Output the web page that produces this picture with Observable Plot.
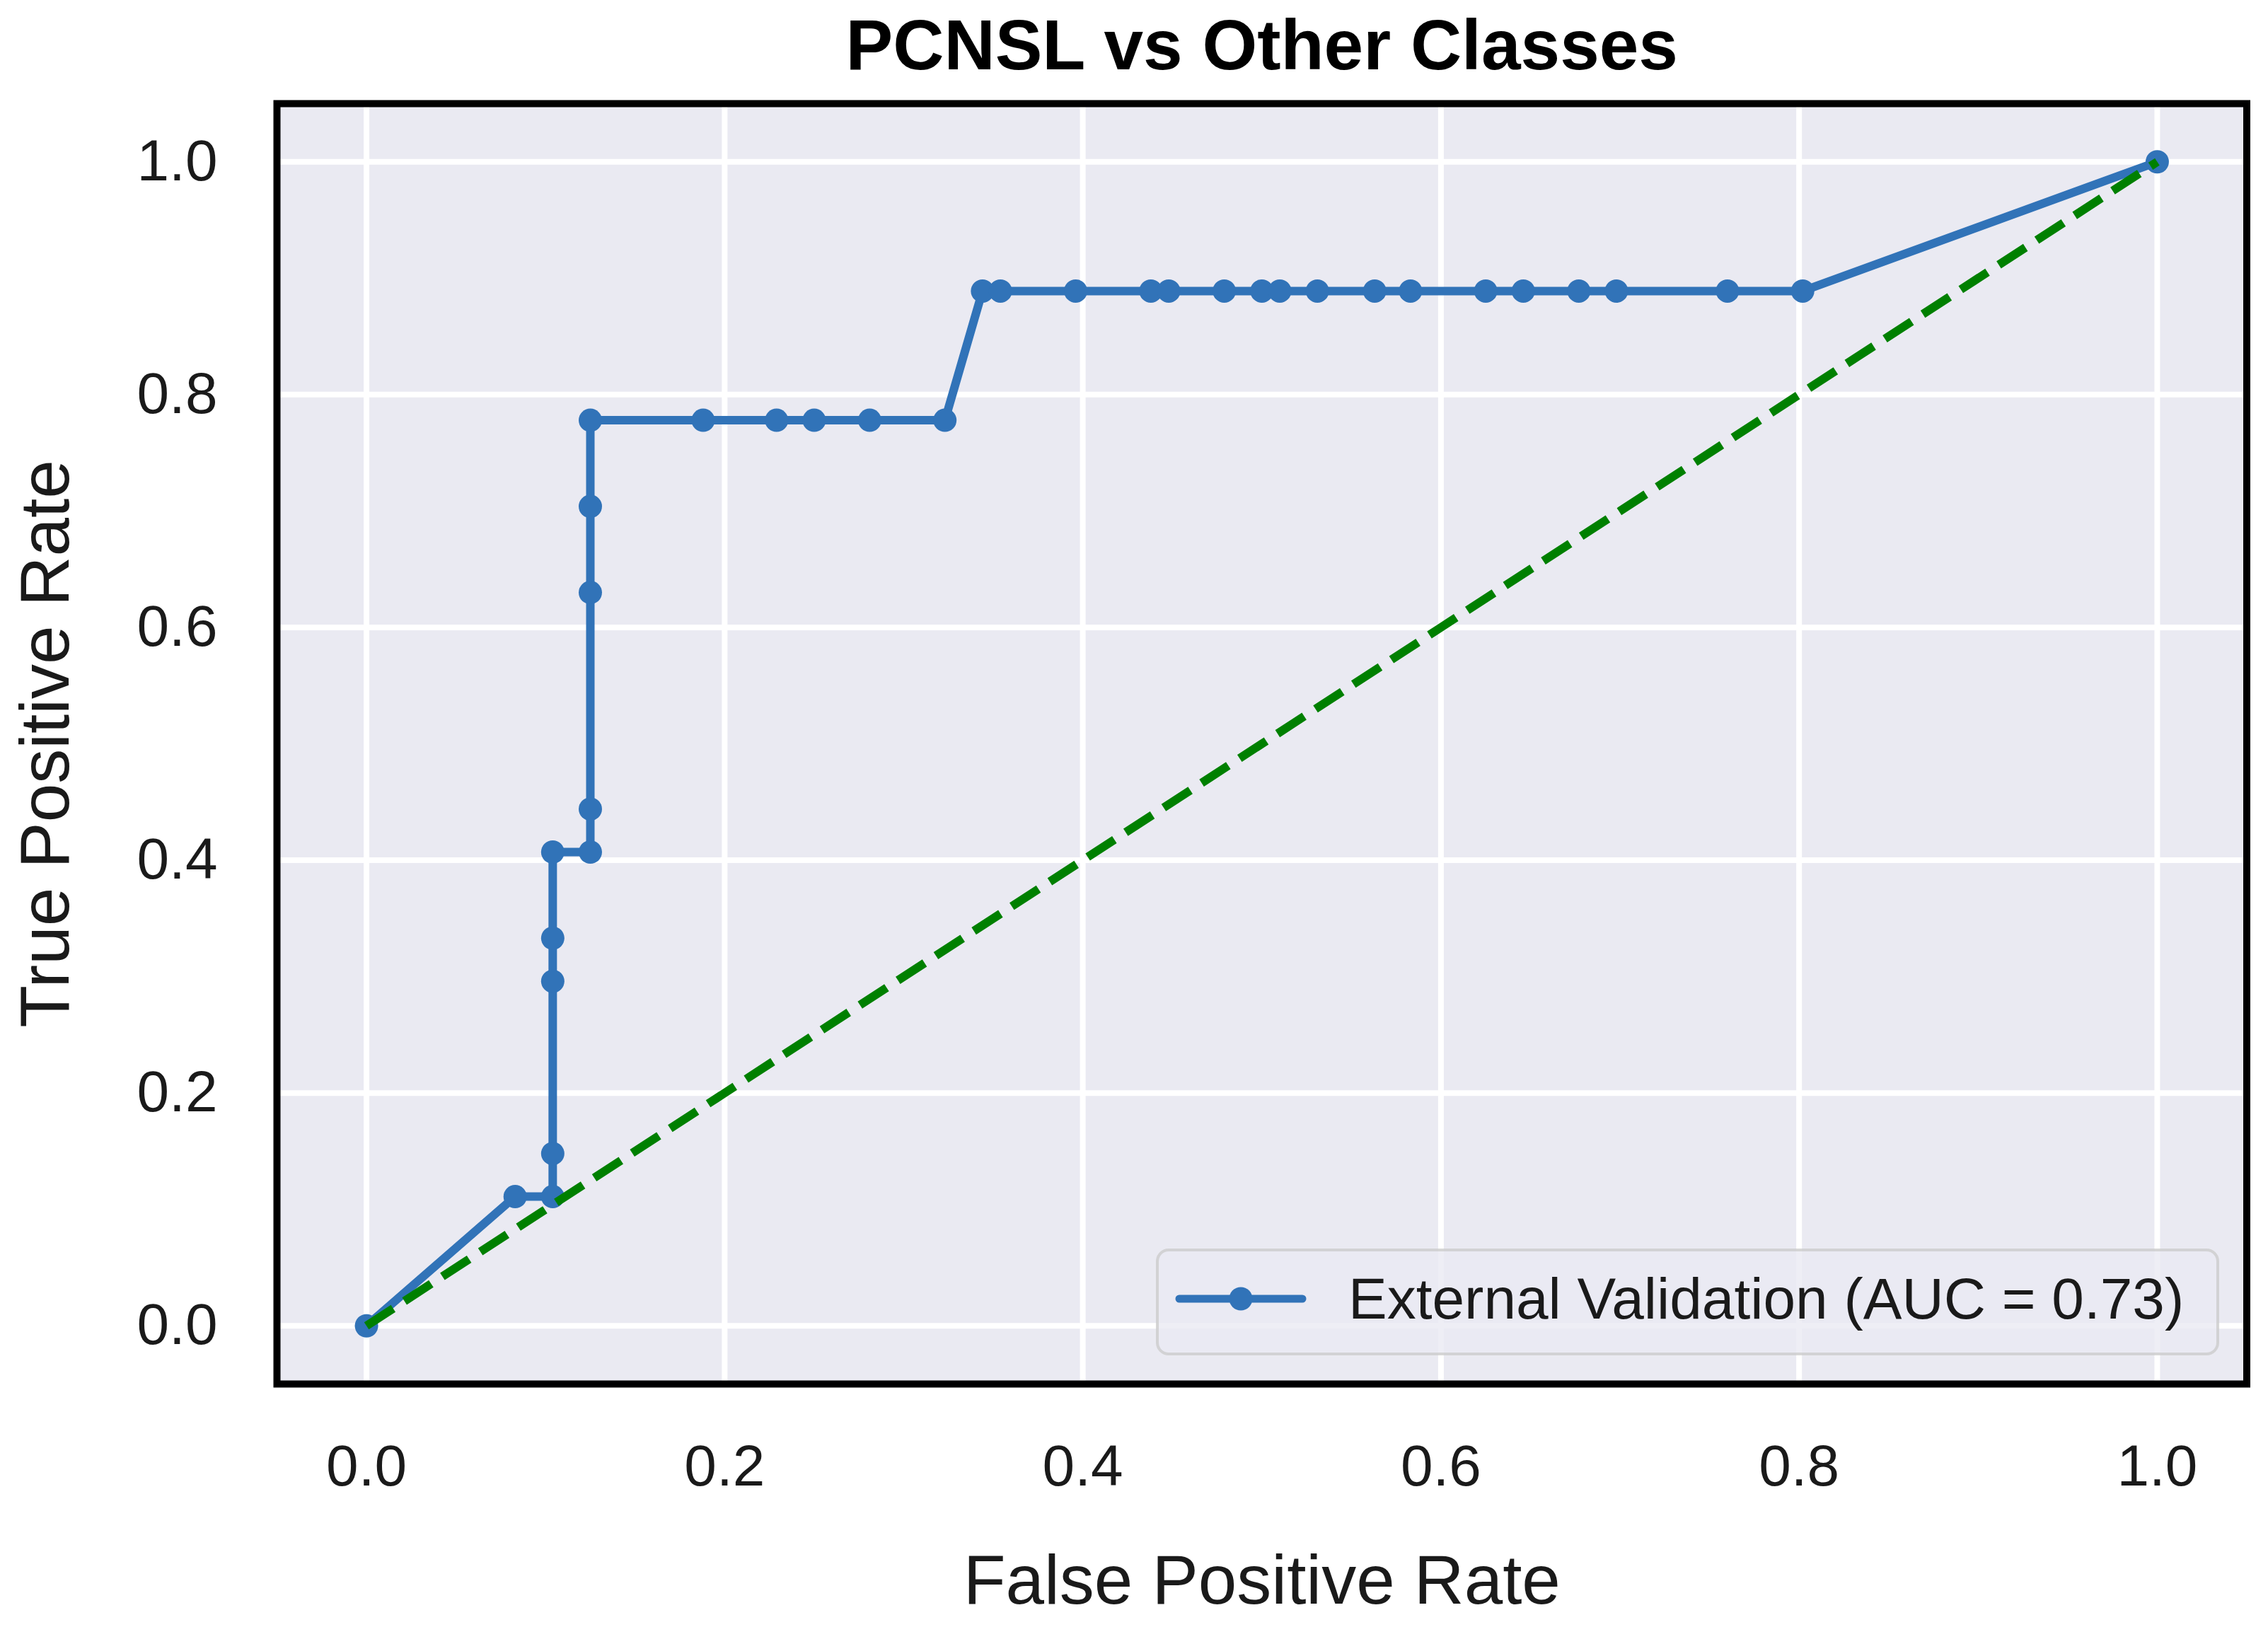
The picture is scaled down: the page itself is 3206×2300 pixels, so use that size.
<!DOCTYPE html>
<html>
<head>
<meta charset="utf-8">
<script src="https://cdn.jsdelivr.net/npm/d3@7"></script>
<script src="https://cdn.jsdelivr.net/npm/@observablehq/plot@0.6"></script>
<style>
  html, body { margin: 0; padding: 0; background: #ffffff; }
  #chart svg { display: block; }
</style>
</head>
<body>
<div id="chart"></div>
<script>
// ---- Data ----
const fpr = [0, 0.083, 0.104, 0.104, 0.104, 0.104, 0.104, 0.125, 0.125, 0.125, 0.125, 0.125,
             0.188, 0.229, 0.25, 0.281, 0.323,
             0.344, 0.354, 0.396, 0.438, 0.448, 0.479, 0.5, 0.51, 0.531, 0.563, 0.583,
             0.625, 0.646, 0.677, 0.698, 0.76, 0.802, 1.0];
const tpr = [0, 0.111, 0.111, 0.148, 0.296, 0.333, 0.407, 0.407, 0.444, 0.63, 0.704, 0.778,
             0.778, 0.778, 0.778, 0.778, 0.778,
             0.889, 0.889, 0.889, 0.889, 0.889, 0.889, 0.889, 0.889, 0.889, 0.889, 0.889,
             0.889, 0.889, 0.889, 0.889, 0.889, 0.889, 1.0];
const diagX = [0, 1];
const diagY = [0, 1];
const xTicks = [0, 0.2, 0.4, 0.6, 0.8, 1.0];
const yTicks = [0, 0.2, 0.4, 0.6, 0.8, 1.0];
const titleText = "PCNSL vs Other Classes";
const xLabelText = "False Positive Rate";
const yLabelText = "True Positive Rate";
const legendText = "External Validation (AUC = 0.73)";

// ---- Build tables ----
const roc = fpr.map((x, i) => ({x, y: tpr[i]}));
const diag = diagX.map((x, i) => ({x, y: diagY[i]}));

const W = 3206, H = 2300;
const mL = 391, mR = 30.5, mT = 146, mB = 344;
const font = "'Liberation Sans', Arial, Helvetica, sans-serif";
const blue = "#3173b8";
const textColor = "#1a1a1a";

const chart = Plot.plot({
  width: W,
  height: H,
  marginLeft: mL,
  marginRight: mR,
  marginTop: mT,
  marginBottom: mB,
  style: {fontFamily: font, background: "#ffffff", color: textColor, overflow: "visible"},
  x: {domain: [-0.05, 1.05]},
  y: {domain: [-0.05, 1.05]},
  marks: [
    Plot.frame({fill: "#EAEAF2", stroke: "none"}),
    Plot.gridX(xTicks, {stroke: "#ffffff", strokeOpacity: 1, strokeWidth: 8}),
    Plot.gridY(yTicks, {stroke: "#ffffff", strokeOpacity: 1, strokeWidth: 8}),
    Plot.line(roc, {x: "x", y: "y", stroke: blue, strokeWidth: 12}),
    Plot.dot(roc, {x: "x", y: "y", r: 16.5, fill: blue}),
    Plot.line(diag, {x: "x", y: "y", stroke: "#008000", strokeWidth: 12, strokeDasharray: "45,19", strokeLinecap: "butt"}),
    Plot.axisX(xTicks, {tickSize: 0, tickPadding: 85, tickFormat: d3.format(".1f"), fontSize: 82, label: null, fill: textColor}),
    Plot.axisY(yTicks, {tickSize: 0, tickPadding: 84, tickFormat: d3.format(".1f"), fontSize: 82, label: null, fill: textColor}),
    Plot.frame({stroke: "#000000", strokeWidth: 10, fill: "none"}),
    Plot.text([titleText], {frameAnchor: "top", lineAnchor: "bottom", textAnchor: "middle", dy: -49, fontSize: 100, fontWeight: "bold", fill: "#000000"}),
    Plot.text([xLabelText], {frameAnchor: "bottom", lineAnchor: "bottom", textAnchor: "middle", dy: 310, fontSize: 98, fill: textColor}),
    Plot.text([yLabelText], {frameAnchor: "left", lineAnchor: "bottom", textAnchor: "middle", rotate: -90, dx: -295, fontSize: 98, fill: textColor})
  ]
});

document.getElementById("chart").appendChild(chart);

// ---- Legend (drawn into the same SVG) ----
const svg = d3.select(chart);
const lg = svg.append("g").attr("font-family", font);
lg.append("rect")
  .attr("x", 1636).attr("y", 1767).attr("width", 1499).attr("height", 147)
  .attr("rx", 16).attr("ry", 16)
  .attr("fill", "#EAEAF2").attr("fill-opacity", 0.8)
  .attr("stroke", "#cccccc").attr("stroke-opacity", 0.8).attr("stroke-width", 4);
lg.append("line")
  .attr("x1", 1667).attr("x2", 1841).attr("y1", 1836).attr("y2", 1836)
  .attr("stroke", blue).attr("stroke-width", 11).attr("stroke-linecap", "round");
lg.append("circle")
  .attr("cx", 1754).attr("cy", 1836).attr("r", 16.5).attr("fill", blue);
lg.append("text")
  .attr("x", 1906).attr("y", 1864)
  .attr("text-anchor", "start")
  .attr("font-size", 82).attr("fill", textColor)
  .text(legendText);
</script>
</body>
</html>
